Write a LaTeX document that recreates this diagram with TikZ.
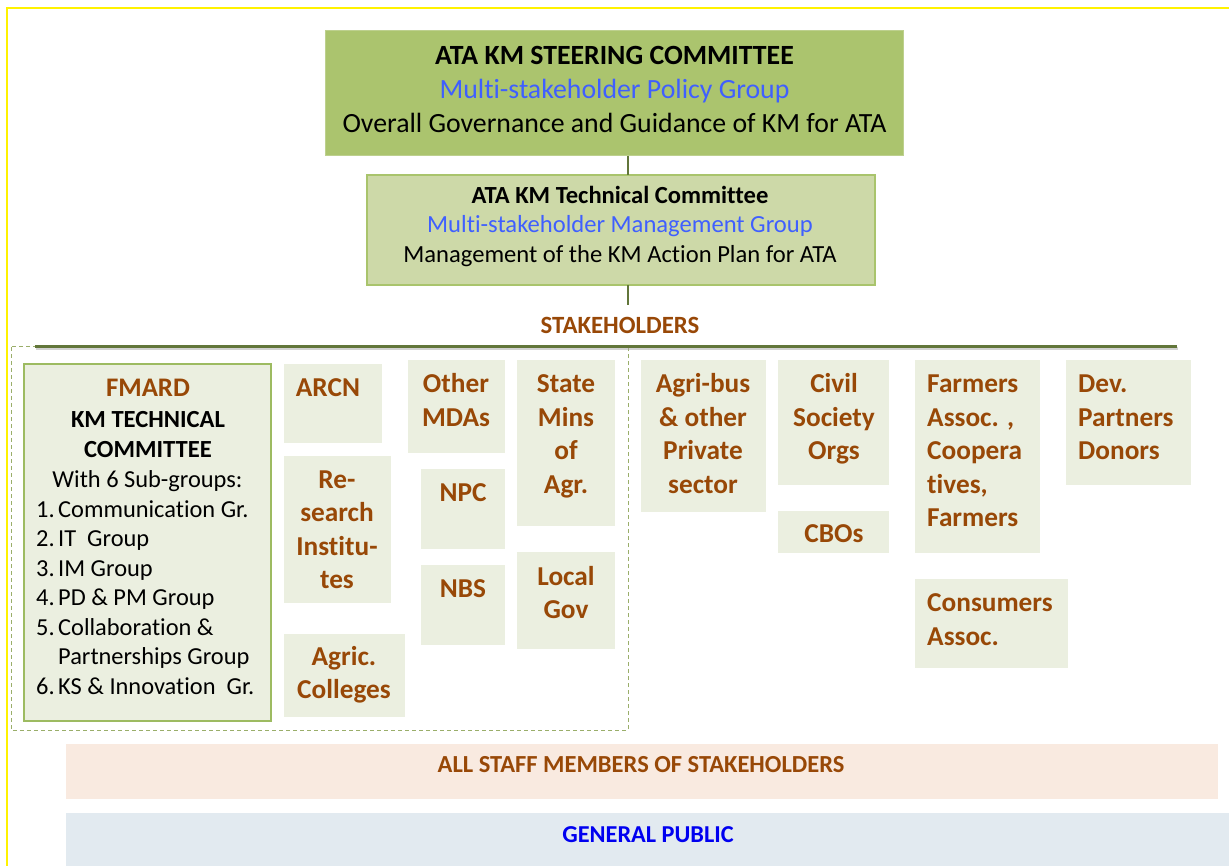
\documentclass[tikz,border=0pt]{standalone}
\usepackage{fontspec}
\setmainfont{Carlito}[Ligatures=NoCommon]
\definecolor{topfill}{HTML}{ABC46E}
\definecolor{topdraw}{HTML}{BDD08E}
\definecolor{techfill}{HTML}{CDD9A8}
\definecolor{techdraw}{HTML}{A9C46C}
\definecolor{smallfill}{HTML}{EBEFE0}
\definecolor{fmdraw}{HTML}{9DBB61}
\definecolor{brownc}{HTML}{984807}
\definecolor{bluec}{HTML}{3F5FFF}
\definecolor{pubblue}{HTML}{0000F0}
\definecolor{linec}{HTML}{62763A}
\definecolor{dashc}{HTML}{9AAE6A}
\definecolor{stafffill}{HTML}{F9EAE0}
\definecolor{pubfill}{HTML}{E2EAF0}
\newcommand\myStrut{\rule{0pt}{22pt}}
\begin{document}
\begin{tikzpicture}[x=1pt,y=-1pt,
  box/.style={rectangle, inner sep=0pt, outer sep=0pt, anchor=north west},
  sbox/.style={box, fill=smallfill},
  conn/.style={draw=linec, line width=2.5pt},
  toptxt/.style={font=\fontsize{27.8}{34}\selectfont, align=center, inner sep=0pt, anchor=north},
  techtxt/.style={font=\fontsize{24.6}{29.5}\selectfont, align=center, inner sep=0pt, anchor=north},
  stxt/.style={font=\bfseries\fontsize{27.3}{33.5}\selectfont, text=brownc, align=center, inner sep=0pt, anchor=north},
  stxtl/.style={stxt, align=left, anchor=north west},
  fmtxt/.style={font=\fontsize{24.4}{29.5}\selectfont, align=center, inner sep=0pt, anchor=north},
  bartxt/.style={font=\bfseries\fontsize{24.5}{28}\selectfont, inner sep=0pt, anchor=base}
]
\useasboundingbox (0,0) rectangle (1229,866);
\clip (0,0) rectangle (1229,866);
\fill[white] (0,0) rectangle (1229,866);
% outer yellow frame
\draw[yellow, line width=2pt] (7,8) rectangle (1250,890);

% top boxes
\node[box, fill=topfill, draw=topdraw, line width=1pt, minimum width=578pt, minimum height=125pt] (top) at (325,31) {};
\node[toptxt] (top-t) at (614.5,42) {\myStrut\textbf{ATA KM STEERING COMMITTEE}\\\textcolor{bluec}{Multi-stakeholder Policy Group}\\Overall Governance and Guidance of KM for ATA};
\node[box, fill=techfill, draw=techdraw, line width=1.2pt, minimum width=508pt, minimum height=110pt] (tech) at (367,175) {};
\node[techtxt] (tech-t) at (620,181.3) {\myStrut\textbf{ATA KM Technical Committee}\\\textcolor{bluec}{Multi-stakeholder Management Group}\\Management of the KM Action Plan for ATA};

\coordinate (lk) at (628,0);
\coordinate (stk) at (628,305);
\draw[conn] (top.south -| lk) -- (tech.north -| lk);
\draw[conn] (tech.south -| lk) -- (stk);

\node[font=\bfseries\fontsize{24.8}{28}\selectfont, text=brownc, inner sep=0pt, anchor=base] (stkl) at (620,334) {STAKEHOLDERS};

% dashed group frame
\draw[dashc, line width=1pt, dash pattern=on 4pt off 3pt] (11,347) rectangle (628,730);

% stakeholders line
\coordinate (sl) at (35,347);
\coordinate (sr) at (1177,347);
\draw[black!35, line width=3pt, opacity=0.5] ([shift={(1,2)}]sl) -- ([shift={(1,2)}]sr);
\draw[linec, line width=3pt] (sl) -- (sr);

% FMARD
\node[box, fill=smallfill, draw=fmdraw, line width=1.2pt, minimum width=247pt, minimum height=357pt] (fm) at (24,364) {};
\node[font=\bfseries\fontsize{26.8}{30}\selectfont, text=brownc, inner sep=0pt, anchor=base] (fm-t) at (148,397) {FMARD};
\node[fmtxt, font=\bfseries\fontsize{24.6}{30}\selectfont] (fm-s) at (148,405) {\myStrut KM TECHNICAL\\COMMITTEE};
\node[fmtxt, anchor=base] (fm-w) at (147.5,487) {With 6 Sub-groups:};
\node[fmtxt, align=left, anchor=north west] (fm-l) at (36,495) {\myStrut\makebox[22pt][l]{1.}Communication Gr.\\\makebox[22pt][l]{2.}IT\ \ Group\\\makebox[22pt][l]{3.}IM Group\\\makebox[22pt][l]{4.}PD \& PM Group\\\makebox[22pt][l]{5.}Collaboration \&\\\hspace*{22pt}Partnerships Group\\\makebox[22pt][l]{6.}KS \& Innovation\ \ Gr.};

% small stakeholder boxes
\node[sbox, minimum width=98pt, minimum height=79pt] (arcn) at (284,364) {};
\node[stxt] (arcn-t) at (328,374.7) {\myStrut ARCN};
\node[sbox, minimum width=107pt, minimum height=147pt] (res) at (284,456) {};
\node[stxt] (res-t) at (337,466) {\myStrut Re-\\search\\Institu-\\tes};
\node[sbox, minimum width=121pt, minimum height=83pt] (agc) at (284,634) {};
\node[stxt] (agc-t) at (344,643) {\myStrut Agric.\\Colleges};
\node[sbox, minimum width=97pt, minimum height=93pt] (mda) at (408,360) {};
\node[stxt] (mda-t) at (456,370.7) {\myStrut Other\\MDAs};
\node[sbox, minimum width=84pt, minimum height=80pt] (npc) at (421,469) {};
\node[stxt] (npc-t) at (463,479.7) {\myStrut NPC};
\node[sbox, minimum width=84pt, minimum height=80pt] (nbs) at (421,565) {};
\node[stxt] (nbs-t) at (463,575) {\myStrut NBS};
\node[sbox, minimum width=98pt, minimum height=166pt] (state) at (517,360) {};
\node[stxt] (state-t) at (566,370.7) {\myStrut State\\Mins\\of\\Agr.};
\node[sbox, minimum width=98pt, minimum height=97pt] (loc) at (517,552) {};
\node[stxt] (loc-t) at (566,563) {\myStrut Local\\Gov};
\node[sbox, minimum width=125pt, minimum height=152pt] (agri) at (641,360) {};
\node[stxt] (agri-t) at (703,370.7) {\myStrut Agri-bus\\\& other\\Private\\sector};
\node[sbox, minimum width=111pt, minimum height=125pt] (civ) at (778,360) {};
\node[stxt] (civ-t) at (834,370.7) {\myStrut Civil\\Society\\Orgs};
\node[sbox, minimum width=111pt, minimum height=42pt] (cbo) at (778,511) {};
\node[stxt] (cbo-t) at (834,520) {\myStrut CBOs};
\node[sbox, minimum width=125pt, minimum height=193pt] (farm) at (915,360) {};
\node[stxtl] (farm-t) at (927,370.7) {\myStrut Farmers\\Assoc. ,\\Coopera\\tives,\\Farmers};
\node[sbox, minimum width=153pt, minimum height=89pt] (cons) at (915,579) {};
\node[stxtl] (cons-t) at (927,589.7) {\myStrut Consumers\\Assoc.};
\node[sbox, minimum width=125pt, minimum height=125pt] (dev) at (1066,360) {};
\node[stxtl] (dev-t) at (1078,370.7) {\myStrut Dev.\\Partners\\Donors};

% bottom bars
\node[box, fill=stafffill, minimum width=1152pt, minimum height=55pt] (staff) at (66,744) {};
\node[bartxt, text=brownc] (staff-t) at (641,772) {ALL STAFF MEMBERS OF STAKEHOLDERS};
\node[box, fill=pubfill, minimum width=1200pt, minimum height=70pt] (pub) at (66,813) {};
\node[bartxt, text=pubblue, font=\bfseries\fontsize{24.3}{28}\selectfont] (pub-t) at (648,842) {GENERAL PUBLIC};
\end{tikzpicture}
\end{document}
